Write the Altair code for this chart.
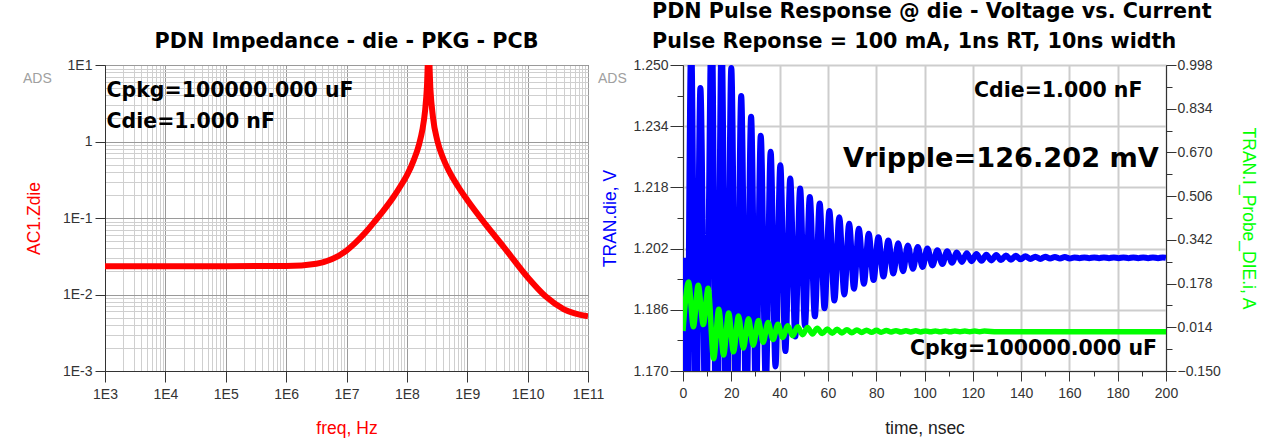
import altair as alt
import pandas as pd

# ---------------- AC sweep: |Z| looking into the die node ----------------
freq_hz = [1e3, 1e4, 1e5, 1e6, 3.16e6, 1e7, 2e7, 3e7, 4e7, 6e7, 8e7, 1e8,
           1.3e8, 1.6e8, 1.8e8, 2e8, 2.15e8, 2.29e8, 2.45e8, 2.7e8, 3.2e8,
           4e8, 5e8, 7e8, 1e9, 2e9, 4e9, 1e10, 2e10, 4e10, 1e11]
zdie_ohm = [0.0234, 0.0234, 0.0234, 0.0236, 0.0253, 0.0375, 0.063, 0.092,
            0.122, 0.188, 0.268, 0.36, 0.57, 0.93, 1.40, 2.5, 5.2, 17.0, 4.9,
            2.1, 1.02, 0.60, 0.41, 0.26, 0.172, 0.083, 0.042, 0.0168, 0.0094,
            0.0064, 0.0052]

# ------- transient: 100 mA pulse, 1 ns edges, 10 ns wide, drawn at the die -------
# turning points (alternating maxima / minima) of the ringing die voltage
vdie_t_ns = [0.0, 1.4, 3.4, 5.3, 7.2, 9.4, 11.9, 13.9, 16.0, 18.0, 20.0, 22.1,
             24.1, 26.2, 28.2, 30.2, 32.2, 34.3, 36.3, 38.3, 40.3, 42.4, 44.4,
             46.5, 48.5, 50.5, 52.5, 54.6, 56.6, 58.6, 60.6, 62.7, 64.7, 66.8,
             68.8, 70.8, 72.8, 74.9, 76.9, 78.9, 80.9, 83.0, 85.0, 87.1, 89.1,
             91.1, 93.1, 95.2, 97.2, 99.2, 101.2, 103.3, 105.3, 107.4, 109.4,
             111.4, 113.4, 115.5, 117.5, 119.5, 121.5, 123.6, 125.6, 127.7,
             129.7, 131.7, 133.7, 135.8, 137.8, 139.8, 141.8, 143.9, 145.9,
             148.0, 150.0, 152.0, 154.0, 156.1, 158.1, 160.1, 162.1, 164.2,
             166.2, 168.2, 170.3, 172.3, 174.3, 176.4, 178.4, 180.4, 182.4,
             184.5, 186.5, 188.5, 190.6, 192.6, 194.6, 196.7, 198.7, 200.0]
vdie_v = [1.1996, 1.1370, 1.2560, 1.1440, 1.2440, 1.1500, 1.262502, 1.1363,
          1.2568, 1.1435, 1.2492, 1.1505, 1.2419, 1.1565, 1.2365, 1.1617,
          1.2315, 1.1665, 1.2273, 1.1712, 1.2238, 1.1752, 1.2203, 1.1790,
          1.2177, 1.1818, 1.2155, 1.1843, 1.2138, 1.1864, 1.2118, 1.1884,
          1.2102, 1.1900, 1.2085, 1.1915, 1.2072, 1.1928, 1.2059, 1.1938,
          1.2050, 1.1947, 1.2041, 1.1955, 1.2034, 1.1961, 1.2028, 1.1967,
          1.2024, 1.1972, 1.2020, 1.1976, 1.2016, 1.1980, 1.2013, 1.1983,
          1.2010, 1.1985, 1.2008, 1.1987, 1.2006, 1.1988, 1.2004, 1.1989,
          1.2003, 1.1990, 1.2002, 1.1991, 1.2001, 1.1992, 1.2000, 1.1993,
          1.1999, 1.1993, 1.1999, 1.1994, 1.1998, 1.1994, 1.1998, 1.1994,
          1.1997, 1.1995, 1.1997, 1.1995, 1.1997, 1.1995, 1.1997, 1.1995,
          1.1997, 1.1995, 1.1997, 1.1995, 1.1997, 1.1995, 1.1997, 1.1995,
          1.1997, 1.1995, 1.1997, 1.1996]

# turning points of the current through the die probe
idie_t_ns = [0.0, 2.3, 4.3, 6.3, 8.4, 10.4, 12.7, 14.8, 16.8, 18.9, 20.9, 23.0,
             25.0, 27.1, 29.1, 31.2, 33.2, 35.2, 37.3, 39.3, 41.3, 43.4, 45.4,
             47.5, 49.5, 51.6, 53.6, 55.6, 57.7, 59.7, 61.8, 63.8, 65.8, 67.9,
             69.9, 72.0, 74.0, 76.0, 78.1, 80.1, 82.1, 84.2, 86.2, 88.2, 90.3,
             92.3, 94.3, 96.4, 98.4, 100.4, 102.5, 104.5, 106.5, 108.6, 110.6,
             112.6, 114.7, 116.7, 118.7, 120.8, 122.8, 124.8, 130.0, 200.0]
idie_a = [0.0, 0.184, 0.016, 0.172, 0.024, 0.160, -0.104, 0.082, -0.090,
          0.068, -0.078, 0.056, -0.064, 0.046, -0.053, 0.039, -0.042, 0.032,
          -0.032, 0.025, -0.024, 0.020, -0.018, 0.016, -0.014, 0.013, -0.011,
          0.010, -0.0095, 0.0080, -0.0082, 0.0065, -0.0071, 0.0052, -0.0062,
          0.0041, -0.0055, 0.0032, -0.0049, 0.0025, -0.0044, 0.0019, -0.0040,
          0.0014, -0.0037, 0.0010, -0.0035, 0.0007, -0.0033, 0.0005, -0.0032,
          0.0003, -0.0031, 0.0002, -0.0031, 0.0001, -0.0030, 0.0000, -0.0030,
          -0.0001, -0.0030, -0.0002, -0.0028, -0.0028]

# axis ticks
freq_major = [1e3, 1e4, 1e5, 1e6, 1e7, 1e8, 1e9, 1e10, 1e11]
freq_minor = [k * 10 ** d for d in range(3, 11) for k in range(2, 10)]
z_major = [1e-3, 1e-2, 1e-1, 1, 10]
z_minor = [k * 10.0 ** d for d in range(-3, 1) for k in range(2, 10)]
t_major = [0, 20, 40, 60, 80, 100, 120, 140, 160, 180, 200]
t_minor = [10, 30, 50, 70, 90, 110, 130, 150, 170, 190]
v_major = [1.170, 1.186, 1.202, 1.218, 1.234, 1.250]
v_minor = [1.178, 1.194, 1.210, 1.226, 1.242]
i_major = [-0.150, 0.014, 0.178, 0.342, 0.506, 0.670, 0.834, 0.998]
i_minor = [-0.068, 0.096, 0.260, 0.424, 0.588, 0.752, 0.916]

# annotation strings
left_title = "PDN Impedance - die - PKG - PCB"
right_title = ["PDN Pulse Response @ die - Voltage vs. Current",
               "Pulse Reponse = 100 mA, 1ns RT, 10ns width"]
cpkg_note = "Cpkg=100000.000 uF"
cdie_note = "Cdie=1.000 nF"
vripple_note = "Vripple=126.202 mV"
tool_tag = "ADS"

W, H = 483, 306
BOLD = "DejaVu Sans"
REG = "Liberation Sans"
RED, BLUE, GREEN = "#ff0000", "#0000ff", "#00ff00"


def note(text, x, y, size=20.5, color="black", weight="bold", font=BOLD,
         baseline="alphabetic"):
    return alt.Chart(pd.DataFrame({"label": [text]})).mark_text(
        align="left", baseline=baseline, font=font, fontSize=size,
        fontWeight=weight, color=color
    ).encode(x=alt.value(x), y=alt.value(y), text="label:N")


# ---------------- left panel: impedance vs frequency ----------------
imp = pd.DataFrame({"f": freq_hz, "z": zdie_ohm})
fx = alt.Scale(type="log", domain=[1e3, 1e11], nice=False)
zy = alt.Scale(type="log", domain=[1e-3, 10], nice=False)

imp_minor = alt.Chart(imp).mark_line(strokeOpacity=0, clip=True).encode(
    x=alt.X("f:Q", scale=fx, axis=alt.Axis(
        orient="bottom", values=freq_minor, grid=True, gridColor="#cfcfcf",
        ticks=False, labels=False, domain=False, title=None)),
    y=alt.Y("z:Q", scale=zy, axis=alt.Axis(
        orient="left", values=z_minor, grid=True, gridColor="#cfcfcf",
        ticks=False, labels=False, domain=False, title=None)),
)

imp_line = alt.Chart(imp).mark_line(
    color=RED, strokeWidth=6, clip=True, interpolate="monotone"
).encode(
    x=alt.X("f:Q", scale=fx, axis=alt.Axis(
        orient="bottom", values=freq_major, grid=True, gridColor="#9a9a9a",
        tickSize=11, labelPadding=5, labelFlush=False, labelOverlap=False,
        labelExpr="'1E' + round(log(datum.value) / LN10)",
        title="freq, Hz", titleColor=RED, titleY=57, titleBaseline="middle")),
    y=alt.Y("z:Q", scale=zy, axis=alt.Axis(
        orient="left", values=z_major, grid=True, gridColor="#9a9a9a",
        tickSize=10, labelPadding=3, labelFlush=False, labelOverlap=False,
        labelExpr="datum.value > 0.5 && datum.value < 2 ? '1' : '1E' + round(log(datum.value) / LN10)",
        title="AC1.Zdie", titleColor=RED, titleX=-71, titleY=H / 2,
        titleAngle=-90, titleAlign="center", titleBaseline="middle")),
)

left = alt.layer(
    imp_minor, imp_line,
    note(cpkg_note, 1.5, 32),
    note(cdie_note, 1.5, 63),
    note(tool_tag, -82, 13.5, size=14, color="#a0a0a0", weight="normal",
         font=REG, baseline="middle"),
).resolve_axis(x="independent", y="independent").properties(
    width=W, height=H,
    title=alt.TitleParams(left_title, font=BOLD, fontSize=20.7,
                          fontWeight="bold", anchor="middle", frame="group",
                          baseline="alphabetic", offset=-11, color="black"),
)

# ---------------- right panel: pulse response ----------------
vdf = pd.DataFrame({"t": vdie_t_ns, "v": vdie_v})
idf = pd.DataFrame({"t": idie_t_ns, "i": idie_a})
tx = alt.Scale(domain=[0, 200], nice=False)
vy = alt.Scale(domain=[1.170, 1.250], nice=False)
iy = alt.Scale(domain=[-0.150, 0.998], nice=False)

v_minor_layer = alt.Chart(vdf).mark_line(strokeOpacity=0, clip=True).encode(
    x=alt.X("t:Q", scale=tx, axis=alt.Axis(
        orient="bottom", values=t_minor, tickSize=5, labels=False,
        domain=False, grid=False, title=None)),
    y=alt.Y("v:Q", scale=vy, axis=alt.Axis(
        orient="left", values=v_minor, tickSize=6, labels=False,
        domain=False, grid=False, title=None)),
)

i_minor_layer = alt.Chart(idf).mark_line(strokeOpacity=0, clip=True).encode(
    x=alt.X("t:Q", scale=tx, axis=None),
    y=alt.Y("i:Q", scale=iy, axis=alt.Axis(
        orient="right", values=i_minor, tickSize=6, labels=False,
        domain=False, grid=False, title=None)),
)

v_line = alt.Chart(vdf).mark_line(
    color=BLUE, strokeWidth=6, clip=True, interpolate="monotone"
).encode(
    x=alt.X("t:Q", scale=tx, axis=alt.Axis(
        orient="bottom", values=t_major, tickSize=10, labelPadding=5,
        labelFlush=False, labelOverlap=False, grid=True, gridColor="#cdcdcd",
        gridWidth=2, title="time, nsec", titleColor="#222222", titleY=57,
        titleBaseline="middle")),
    y=alt.Y("v:Q", scale=vy, axis=alt.Axis(
        orient="left", values=v_major, format=".3f", tickSize=13,
        labelPadding=2, labelFlush=False, labelOverlap=False, grid=True,
        gridColor="#cdcdcd", gridWidth=2, title="TRAN.die, V",
        titleColor=BLUE, titleX=-73, titleY=H / 2, titleAngle=-90,
        titleAlign="center", titleBaseline="middle")),
)

i_line = alt.Chart(idf).mark_line(
    color=GREEN, strokeWidth=5.5, clip=True, interpolate="monotone"
).encode(
    x=alt.X("t:Q", scale=tx, axis=None),
    y=alt.Y("i:Q", scale=iy, axis=alt.Axis(
        orient="right", values=i_major, format=".3f", tickSize=10,
        labelPadding=1, labelFlush=False, labelOverlap=False, grid=False,
        title="TRAN.I_Probe_DIE.i, A", titleColor=GREEN, titleX=81,
        titleY=H / 2, titleAngle=90, titleAlign="center",
        titleBaseline="middle")),
)

right = alt.layer(
    v_minor_layer, i_minor_layer, v_line, i_line,
    note(cdie_note, 291, 32),
    note(vripple_note, 160, 102, size=27.2),
    note(cpkg_note, 227, 290),
    note(tool_tag, -85, 13.5, size=14, color="#a0a0a0", weight="normal",
         font=REG, baseline="middle"),
).resolve_scale(y="independent").resolve_axis(
    x="independent", y="independent"
).properties(
    width=W, height=H,
    title=alt.TitleParams(right_title, font=BOLD, fontSize=20.7,
                          fontWeight="bold", anchor="start", frame="group",
                          dx=-31, lineHeight=30.5, baseline="alphabetic",
                          offset=-11, color="black"),
)

chart = alt.hconcat(left, right, spacing=95, bounds="flush").configure_view(
    stroke="#555555", strokeWidth=1
).configure_axis(
    labelFont=REG, labelFontSize=14, labelColor="#333333",
    titleFont=REG, titleFontSize=17.5, titleFontWeight="normal",
    domainColor="#333333", tickColor="#333333",
).properties(
    background="white",
    padding={"left": 22, "top": 0, "right": 5, "bottom": 5},
)

chart.save("out.html", embed_options={"renderer": "svg", "actions": False})
